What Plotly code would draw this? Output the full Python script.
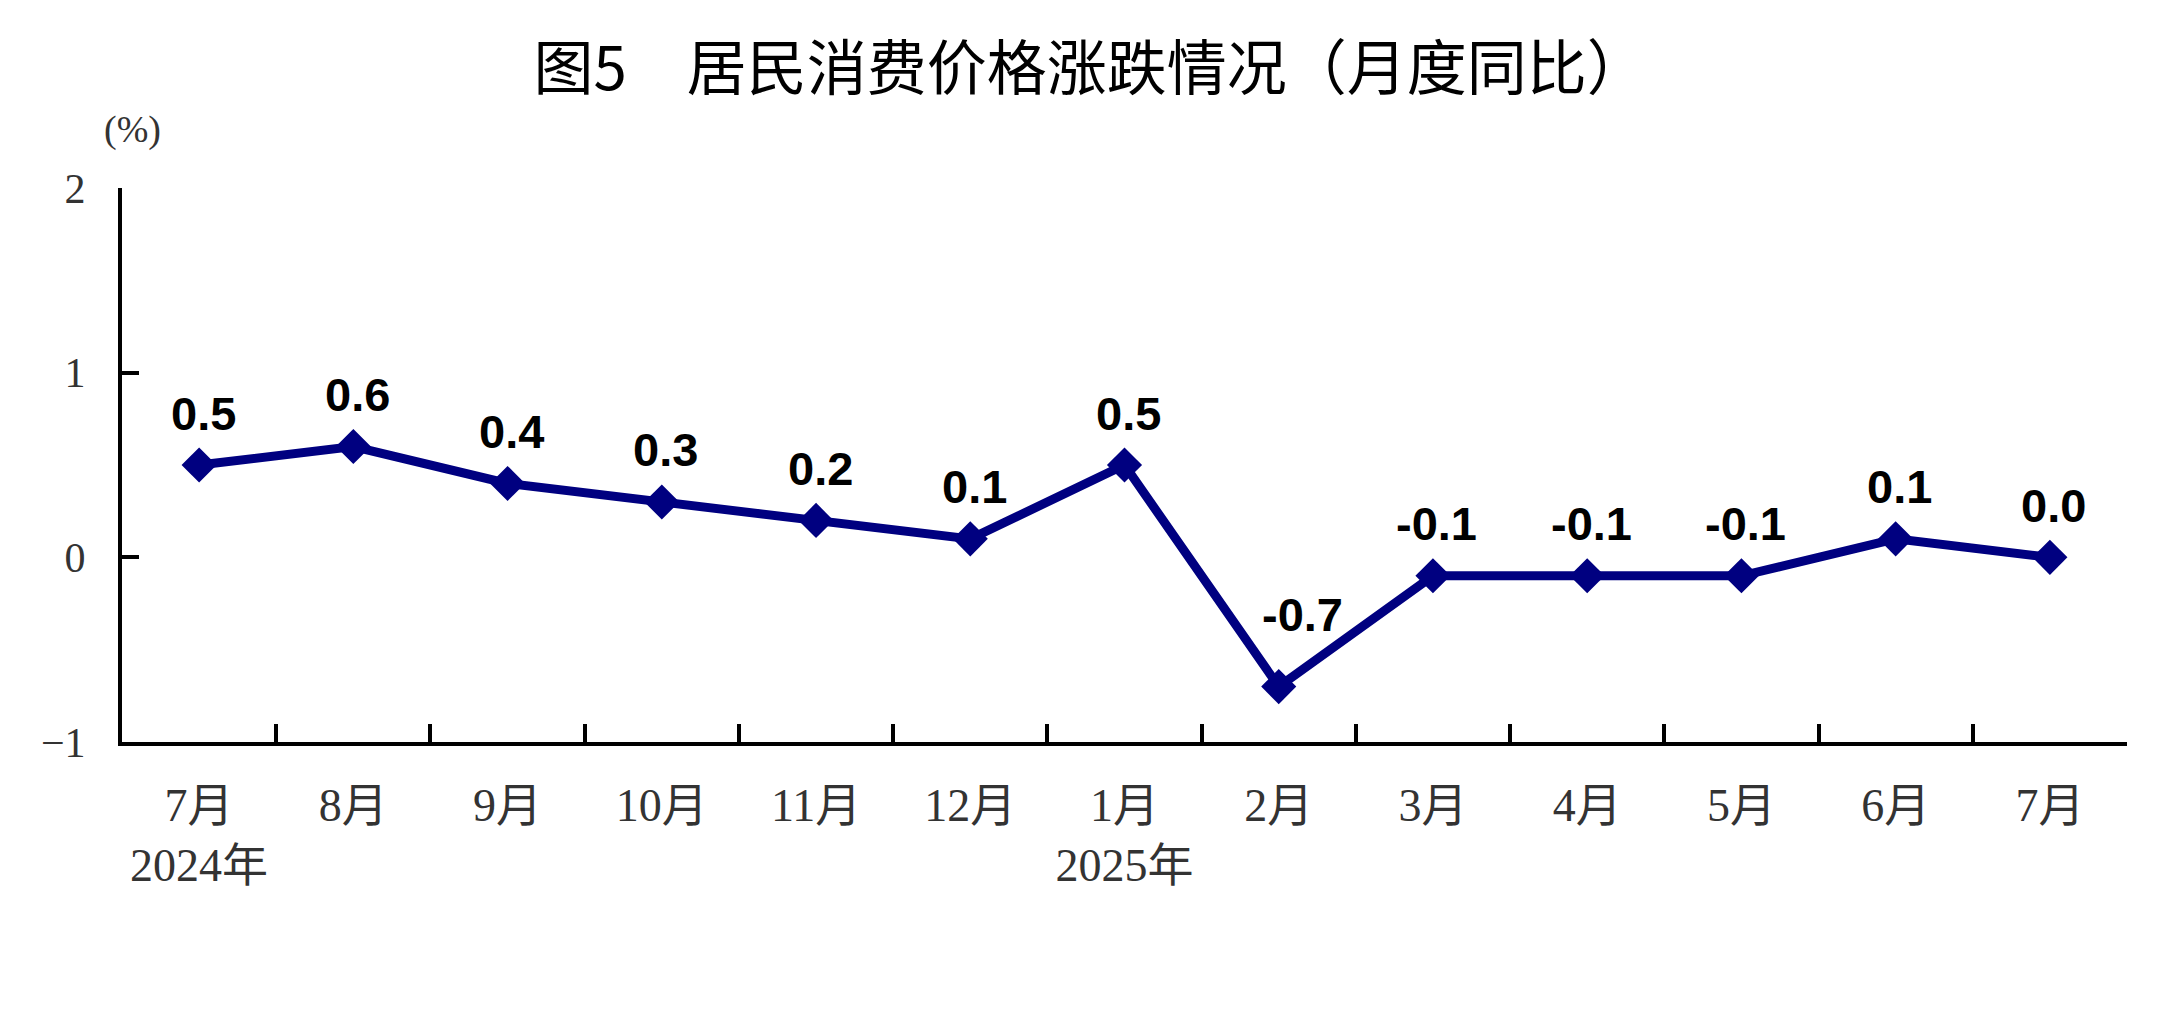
import plotly.graph_objects as go

# ---------data---------
months = ["7月", "8月", "9月", "10月", "11月", "12月", "1月", "2月", "3月", "4月", "5月", "6月", "7月"]
years = ["2024年", "", "", "", "", "", "2025年", "", "", "", "", "", ""]
cpi_yoy = [0.5, 0.6, 0.4, 0.3, 0.2, 0.1, 0.5, -0.7, -0.1, -0.1, -0.1, 0.1, 0.0]
y_ticks = [-1, 0, 1, 2]

NAVY = "#000080"
SERIF = "Liberation Serif, Noto Sans CJK SC, serif"

# category names double as tick text (first and last "7月" differ by the year line)
cats = [m if not y else m + "<br>" + y for m, y in zip(months, years)]

fig = go.Figure()
fig.add_trace(go.Scatter(x=cats, y=cpi_yoy,
                         mode="lines+markers",
                         line=dict(color=NAVY, width=9),
                         marker=dict(symbol="diamond", size=27, color=NAVY),
                         showlegend=False,
                         hoverinfo="skip"))

# value labels above points, the -0.7 one is pushed up/right off the line
for c, v in zip(cats, cpi_yoy):
    dx, dy = (24, 72) if v < -0.5 else (4, 52)
    fig.add_annotation(x=c, y=v, text="%.1f" % v, showarrow=False,
                       xshift=dx, yshift=dy,
                       font=dict(family="Liberation Sans, Arial, sans-serif", size=47, color="black", weight="bold"))

# unit label
fig.add_annotation(text="(%)", xref="paper", yref="paper", x=0.005, y=1.105,
                   xanchor="center", yanchor="middle", showarrow=False,
                   font=dict(family=SERIF, size=38, color="#333333"))

fig.update_xaxes(type="category", categoryorder="array", categoryarray=cats,
                 range=[-0.5, len(cats) - 0.5],
                 tickson="boundaries", ticks="inside", ticklen=18, tickwidth=4, tickcolor="black",
                 showline=True, linecolor="black", linewidth=4,
                 showgrid=False, zeroline=False,
                 ticklabelstandoff=20,
                 tickfont=dict(family=SERIF, size=46, color="#333333"))

fig.update_yaxes(range=[-1, 2], tickvals=y_ticks,
                 ticks="inside", ticklen=17, tickwidth=4, tickcolor="black",
                 showline=True, linecolor="black", linewidth=4,
                 showgrid=False, zeroline=False,
                 ticklabelstandoff=24,
                 tickfont=dict(family=SERIF, size=42, color="#333333"))

# margins are 8px short of the target because the page body adds 8px
fig.update_layout(width=2180, height=1016,
                  margin=dict(l=114, r=61, t=180, b=282),
                  plot_bgcolor="white", paper_bgcolor="white",
                  title=dict(text="图5　居民消费价格涨跌情况（月度同比）",
                             x=0.4964, xanchor="center", y=0.94, yanchor="middle",
                             font=dict(family="Noto Sans CJK SC", size=60, color="black")))

fig.write_html("out.html")
